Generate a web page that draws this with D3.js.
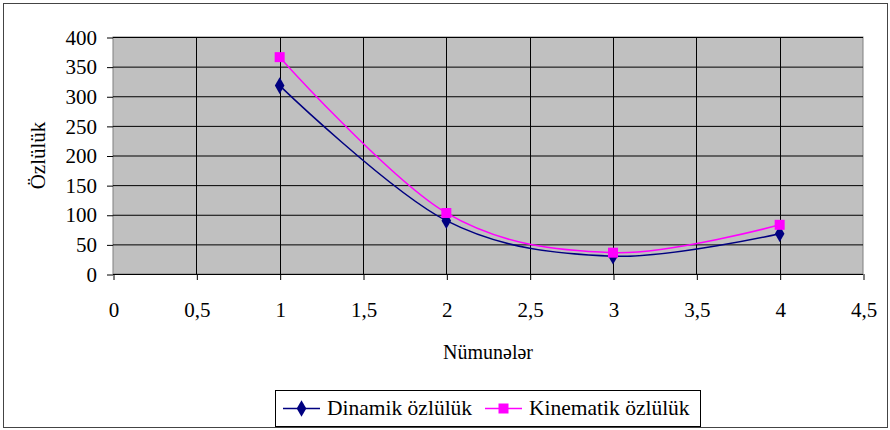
<!DOCTYPE html>
<html>
<head>
<meta charset="utf-8">
<script src="https://cdn.jsdelivr.net/npm/d3@7"></script>
<style>
  body { margin: 0; background: #fff; }
</style>
</head>
<body>
<svg id="chart" width="890" height="430" font-family="Liberation Serif"></svg>
<script>
// data
const samples = [1, 2, 3, 4]
const dinamik = [318, 90, 30, 68]
const kinematik = [366, 103, 36, 83]
const xTicks = [0, 0.5, 1, 1.5, 2, 2.5, 3, 3.5, 4, 4.5]
const yTicks = [0, 50, 100, 150, 200, 250, 300, 350, 400]
const seriesNames = ['Dinamik özlülük', 'Kinematik özlülük']

const FONT = 'Liberation Serif'
const svg = d3.select('#chart')
const plot = {left: 113, top: 37, right: 863, bottom: 274}

// outer frame
svg.append('rect')
    .attr('x', 3.5).attr('y', 3.5)
    .attr('width', 884).attr('height', 424)
    .style('fill', 'none')
    .style('stroke', '#444')

const x = d3.scaleLinear().domain([0, 4.5]).range([plot.left, plot.right])
const y = d3.scaleLinear().domain([0, 400]).range([plot.bottom, plot.top])

// plot background
svg.append('rect')
    .attr('x', plot.left).attr('y', plot.top)
    .attr('width', plot.right - plot.left)
    .attr('height', plot.bottom - plot.top)
    .style('fill', '#c0c0c0')
    .style('stroke', '#808080')

// grid lines
svg.append('g')
    .selectAll('line')
    .data(yTicks)
    .enter()
    .append('line')
        .attr('x1', plot.left).attr('x2', plot.right)
        .attr('y1', d => y(d) + 0.5).attr('y2', d => y(d) + 0.5)
        .style('stroke', '#000')
svg.append('g')
    .selectAll('line')
    .data(xTicks.slice(1, -1))
    .enter()
    .append('line')
        .attr('x1', d => Math.round(x(d)) + 0.5).attr('x2', d => Math.round(x(d)) + 0.5)
        .attr('y1', plot.top).attr('y2', plot.bottom)
        .style('stroke', '#000')

// axes
const fmt = d => String(d).replace('.', ',')
const yAxis = svg.append('g')
    .attr('transform', `translate(${plot.left},0.5)`)
    .call(d3.axisLeft(y).tickValues(yTicks).tickSize(6).tickPadding(10).tickFormat(fmt))
const xAxis = svg.append('g')
    .attr('transform', `translate(0.5,${plot.bottom})`)
    .call(d3.axisBottom(x).tickValues(xTicks).tickSize(6).tickPadding(22).tickFormat(fmt))
;[yAxis, xAxis].forEach(g => {
    g.attr('font-family', FONT).attr('font-size', 21)
    g.select('.domain').remove()
    g.selectAll('line').style('stroke', '#000')
    g.selectAll('text').attr('font-family', FONT).attr('fill', '#000')
})

// axis titles
svg.append('text')
    .attr('transform', `translate(45,${(plot.top + plot.bottom) / 2}) rotate(-90)`)
    .attr('text-anchor', 'middle')
    .attr('font-family', FONT)
    .attr('font-size', 21)
    .text('Özlülük')
svg.append('text')
    .attr('x', (plot.left + plot.right) / 2).attr('y', 359)
    .attr('text-anchor', 'middle')
    .attr('font-family', FONT)
    .attr('font-size', 20)
    .text('Nümunələr')

// series
const series = [
    {name: seriesNames[0], values: dinamik, color: '#000080', shape: d3.symbolDiamond},
    {name: seriesNames[1], values: kinematik, color: '#ff00ff', shape: d3.symbolSquare}
]
const line = d3.line()
    .x(d => x(d.x)).y(d => y(d.y))
    .curve(d3.curveCardinal.tension(0))

series.forEach(s => {
    const pts = samples.map((v, i) => ({x: v, y: s.values[i]}))
    svg.append('path')
        .datum(pts)
        .attr('d', line)
        .style('fill', 'none')
        .style('stroke', s.color)
        .style('stroke-width', 1.5)
    svg.append('g')
        .selectAll('path')
        .data(pts)
        .enter()
        .append('path')
            .attr('transform', d => `translate(${x(d.x)},${y(d.y)})`)
            .attr('d', d3.symbol().type(s.shape).size(s.shape === d3.symbolSquare ? 100 : 80))
            .style('fill', s.color)
})

// legend
const legend = svg.append('g')
legend.append('rect')
    .attr('x', 275.5).attr('y', 390.5)
    .attr('width', 425).attr('height', 36)
    .style('fill', '#fff')
    .style('stroke', '#000')
const legendX = [283, 485]
series.forEach((s, i) => {
    const lx = legendX[i]
    legend.append('line')
        .attr('x1', lx).attr('x2', lx + 37)
        .attr('y1', 408.5).attr('y2', 408.5)
        .style('stroke', s.color)
        .style('stroke-width', 1.5)
    legend.append('path')
        .attr('transform', `translate(${lx + 18.5},408.5)`)
        .attr('d', d3.symbol().type(s.shape).size(s.shape === d3.symbolSquare ? 100 : 80))
        .style('fill', s.color)
    legend.append('text')
        .attr('x', lx + 44).attr('y', 415)
        .attr('font-family', FONT)
        .attr('font-size', 21.5)
        .text(s.name)
})
</script>
</body>
</html>
